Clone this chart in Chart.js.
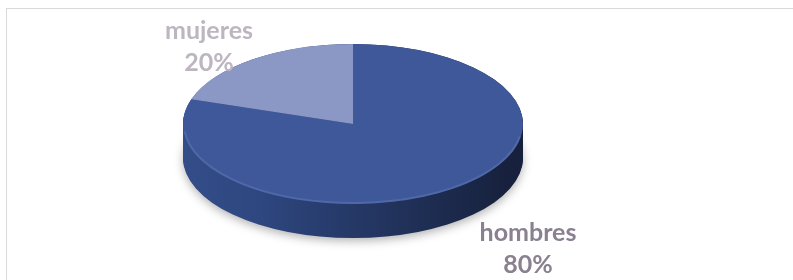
<!DOCTYPE html>
<html>
<head>
<meta charset="utf-8">
<script src="https://cdn.jsdelivr.net/npm/chart.js@4"></script>
<style>
  html, body { margin: 0; padding: 0; background: #fff; }
  #wrap { position: relative; width: 793px; height: 280px; overflow: hidden; }
  #frame { position: absolute; left: 6px; top: 8px; width: 800px; height: 300px; border: 1.5px solid #d9d9d9; box-sizing: border-box; }
  canvas { position: absolute; left: 0; top: 0; }
</style>
</head>
<body>
<div id="wrap">
  <div id="frame"></div>
  <canvas id="pieChart" width="793" height="280"></canvas>
</div>
<script>
const categories = ["hombres", "mujeres"];
const values = [80, 20];
const sliceColors = ["#3e5899", "#8b97c4"];
const labelColors = ["#8a8090", "#bdb5c0"];

// dónde va el pastel (elipse) y sus etiquetas
const pieCenter = { x: 353, y: 124 };
const pieRx = 170, pieRy = 80, pieDepth = 34;
const labelPos = [{ x: 528, y: 233 }, { x: 209, y: 31 }];

const total = values.reduce((a, b) => a + b, 0);

// pastel 3D: achata el círculo y dibuja el borde lateral
const pie3d = {
    id: "pie3d",
    beforeDatasetsDraw(chart) {
        const ctx = chart.ctx;
        const arcs = chart.getDatasetMeta(0).data;
        const a0 = arcs[0];
        const R = a0.outerRadius;

        // borde lateral
        const grad = ctx.createLinearGradient(pieCenter.x - pieRx, 0, pieCenter.x + pieRx, 0);
        grad.addColorStop(0, "#3a5594");
        grad.addColorStop(0.4, "#2e4780");
        grad.addColorStop(1, "#17213d");
        ctx.save();
        ctx.shadowColor = "rgba(0,0,0,0.3)";
        ctx.shadowBlur = 10;
        ctx.shadowOffsetY = 3;
        for (let d = pieDepth; d >= 0; d--) {
            if (d < pieDepth) ctx.shadowColor = "transparent";
            ctx.save();
            ctx.translate(pieCenter.x, pieCenter.y + d);
            ctx.scale(pieRx / R, pieRy / R);
            ctx.translate(-a0.x, -a0.y);
            arcs.forEach(arc => {
                ctx.beginPath();
                ctx.moveTo(arc.x, arc.y);
                ctx.arc(arc.x, arc.y, arc.outerRadius, arc.startAngle, arc.endAngle);
                ctx.closePath();
                ctx.fillStyle = grad;
                ctx.fill();
            });
            ctx.restore();
        }
        ctx.restore();

        // cara superior
        ctx.save();
        ctx.translate(pieCenter.x, pieCenter.y);
        ctx.scale(pieRx / R, pieRy / R);
        ctx.translate(-a0.x, -a0.y);
    },
    afterDatasetsDraw(chart) {
        const ctx = chart.ctx;
        ctx.restore();

        // brillo suave en el canto
        ctx.save();
        ctx.beginPath();
        ctx.ellipse(pieCenter.x, pieCenter.y, pieRx - 1, pieRy - 1, 0, 0.05 * Math.PI, 0.97 * Math.PI);
        ctx.strokeStyle = "rgba(120,145,205,0.3)";
        ctx.lineWidth = 2;
        ctx.stroke();
        ctx.restore();

        // etiquetas
        ctx.save();
        ctx.textAlign = "center";
        ctx.textBaseline = "middle";
        ctx.font = "bold 25px Lato, 'Open Sans', sans-serif";
        categories.forEach((c, i) => {
            const p = labelPos[i];
            ctx.fillStyle = labelColors[i];
            ctx.fillText(c, p.x, p.y);
            ctx.fillText(Math.round(values[i] / total * 100) + "%", p.x, p.y + 32);
        });
        ctx.restore();
    }
};

new Chart(document.getElementById("pieChart").getContext("2d"), {
    type: "pie",
    data: {
        labels: categories,
        datasets: [{
            data: values,
            backgroundColor: sliceColors,
            borderWidth: 0,
            clip: false
        }]
    },
    options: {
        responsive: false,
        animation: false,
        layout: { padding: 0 },
        plugins: {
            legend: { display: false },
            tooltip: { enabled: false }
        }
    },
    plugins: [pie3d]
});
</script>
</body>
</html>
